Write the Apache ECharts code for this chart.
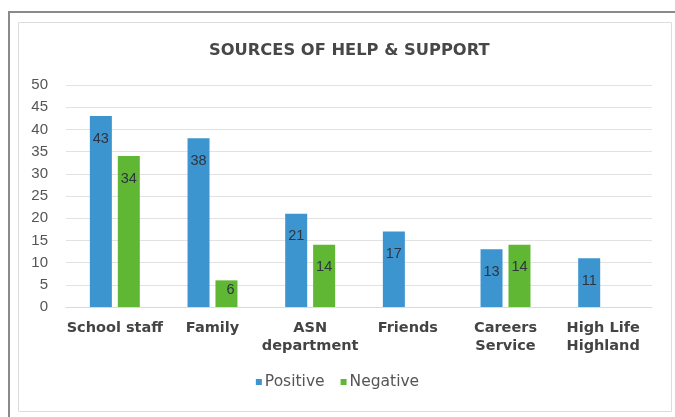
<!DOCTYPE html>
<html>
<head>
<meta charset="utf-8">
<script src="https://cdn.jsdelivr.net/npm/echarts@6/dist/echarts.min.js"></script>
<style>
  html, body { margin: 0; padding: 0; background: #ffffff; }
  #chart { width: 675px; height: 417px; }
</style>
</head>
<body>
<div id="chart"></div>
<script>
// Survey responses: where young people found help and support
const categories = ['School staff', 'Family', 'ASN\ndepartment', 'Friends', 'Careers\nService', 'High Life\nHighland'];
const positive = [43, 38, 21, 17, 13, 11];
const negative = [34, 6, 14, null, 14, null];
const yTicks = { min: 0, max: 50, interval: 5 };

const chart = echarts.init(document.getElementById('chart'), null, { renderer: 'canvas' });

const barLabel = {
  show: true,
  position: 'insideTop',
  distance: 15,
  color: '#2e3440',
  fontFamily: 'Liberation Sans, Arial, sans-serif',
  fontSize: 14.5
};

// Short bars keep their label just under the bar top
function labelLayout(p) {
  if (p.rect.height < 40) {
    return { y: p.rect.y + 2 };
  }
  return {};
}

chart.setOption({
  animation: false,
  backgroundColor: '#ffffff',
  graphic: [
    // outer frame edges (top and left)
    { type: 'rect', shape: { x: 8, y: 11, width: 667, height: 2 }, style: { fill: '#8a8a8a' }, silent: true },
    { type: 'rect', shape: { x: 8, y: 11, width: 2, height: 406 }, style: { fill: '#8a8a8a' }, silent: true },
    // inner chart area border
    { type: 'rect', shape: { x: 18.5, y: 22.5, width: 653, height: 389 }, style: { fill: 'none', stroke: '#dcdcdc', lineWidth: 1 }, silent: true }
  ],
  title: {
    text: 'SOURCES OF HELP & SUPPORT',
    left: 204,
    top: 38,
    textStyle: {
      fontFamily: 'DejaVu Sans, Verdana, sans-serif',
      fontWeight: 'bold',
      fontSize: 16.3,
      color: '#474747'
    }
  },
  legend: {
    bottom: 22,
    left: 'center',
    itemWidth: 6,
    itemHeight: 6,
    itemGap: 16,
    icon: 'rect',
    textStyle: {
      fontFamily: 'DejaVu Sans, Verdana, sans-serif',
      fontSize: 15.5,
      color: '#555555',
      padding: [0, 0, 0, -2]
    },
    data: ['Positive', 'Negative']
  },
  grid: { left: 66, right: 23, top: 85, bottom: 110, containLabel: false },
  xAxis: {
    type: 'category',
    data: categories,
    axisLine: { show: true, lineStyle: { color: '#d9d9d9' } },
    axisTick: { show: false },
    axisLabel: {
      interval: 0,
      margin: 12,
      lineHeight: 18,
      fontFamily: 'DejaVu Sans, Verdana, sans-serif',
      fontWeight: 'bold',
      fontSize: 14.5,
      color: '#444444'
    }
  },
  yAxis: {
    type: 'value',
    min: yTicks.min,
    max: yTicks.max,
    interval: yTicks.interval,
    axisLine: { show: false },
    axisTick: { show: false },
    splitLine: { lineStyle: { color: '#e2e2e2' } },
    axisLabel: {
      margin: 18,
      fontFamily: 'Liberation Sans, Arial, sans-serif',
      fontSize: 15,
      color: '#555555'
    }
  },
  series: [
    {
      name: 'Positive',
      type: 'bar',
      data: positive,
      barWidth: 22,
      barGap: '27%',
      itemStyle: { color: '#3d95cf' },
      label: barLabel,
      labelLayout: labelLayout
    },
    {
      name: 'Negative',
      type: 'bar',
      data: negative,
      barWidth: 22,
      itemStyle: { color: '#5fb733' },
      label: barLabel,
      labelLayout: labelLayout
    }
  ]
});
</script>
</body>
</html>
